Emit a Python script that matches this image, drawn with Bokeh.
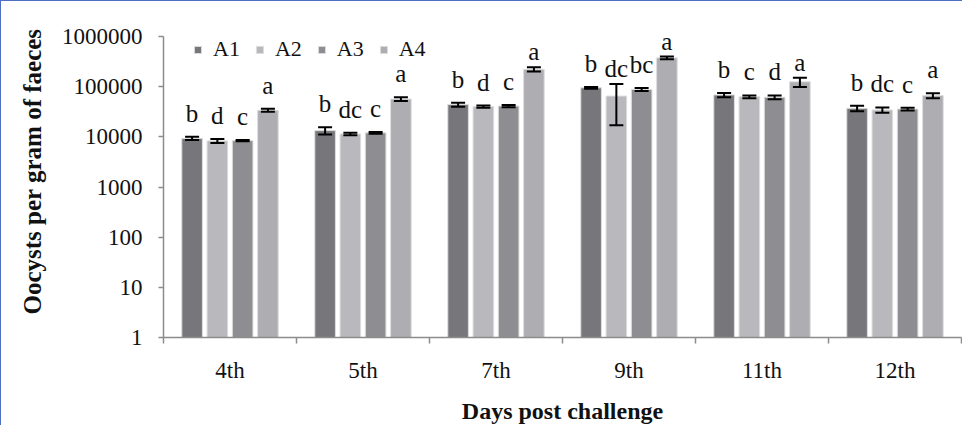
from bokeh.plotting import figure
from bokeh.models import (ColumnDataSource, Whisker, TeeHead, LabelSet, FixedTicker,
                          PrintfTickFormatter, Legend, LegendItem, Title, Range1d)
from bokeh.embed import file_html
from bokeh.resources import INLINE

days = ["4th", "5th", "7th", "9th", "11th", "12th"]
groups = ["A1", "A2", "A3", "A4"]

A1 = [9300, 13300, 44000, 95000, 68500, 37000]
A1_err = [700, 2200, 4000, 4000, 6700, 4500]
A1_sig = ["b", "b", "b", "b", "b", "b"]

A2 = [8300, 11400, 40000, 65000, 63000, 34300]
A2_err = [800, 600, 2000, 48000, 4000, 4200]
A2_sig = ["d", "dc", "d", "dc", "c", "dc"]

A3 = [8400, 12000, 41000, 88000, 61500, 35700]
A3_err = [250, 450, 2000, 6500, 5200, 2100]
A3_sig = ["c", "c", "c", "bc", "d", "c"]

A4 = [33800, 56500, 222000, 375000, 125000, 66500]
A4_err = [2300, 5000, 22000, 23000, 26000, 7600]
A4_sig = ["a", "a", "a", "a", "a", "a"]

y_ticks = [1, 10, 100, 1000, 10000, 100000, 1000000]

colors = ["#77777b", "#b9b9bd", "#8e8e92", "#aeaeb2"]
series = [(A1, A1_err, A1_sig), (A2, A2_err, A2_sig), (A3, A3_err, A3_sig), (A4, A4_err, A4_sig)]

AX = "#8c8c8c"
SERIF = "Liberation Serif"

p = figure(width=962, height=425, x_range=Range1d(0, len(days)), y_range=Range1d(1, 1e6),
           y_axis_type="log", output_backend="svg", toolbar_location=None,
           min_border_left=162, min_border_right=2, min_border_top=35, min_border_bottom=87)
p.xgrid.visible = False
p.ygrid.visible = False
p.outline_line_color = None
p.background_fill_color = "white"
p.border_fill_color = "white"
p.styles = {"border-left": "1px solid #4f6fc4", "border-top": "1px solid #4f6fc4"}

# y axis
yax = p.yaxis[0]
yax.ticker = FixedTicker(ticks=y_ticks, minor_ticks=[])
yax.formatter = PrintfTickFormatter(format="%d")
yax.axis_line_color = AX
yax.axis_line_width = 1.5
yax.major_tick_line_color = AX
yax.major_tick_line_width = 1.5
yax.major_tick_out = 5
yax.major_tick_in = 0
yax.minor_tick_out = 0
yax.minor_tick_in = 0
yax.major_label_standoff = 16
yax.major_label_text_font = SERIF
yax.major_label_text_font_size = "23px"
yax.major_label_text_color = "#111111"

# x axis
centers = [i + 0.5 for i in range(len(days))]
bounds = [float(i) for i in range(len(days) + 1)]
xax = p.xaxis[0]
xax.ticker = FixedTicker(ticks=centers, minor_ticks=bounds)
xax.major_label_overrides = {c: d for c, d in zip(centers, days)}
xax.axis_line_color = AX
xax.axis_line_width = 1.5
xax.major_tick_out = 0
xax.major_tick_in = 0
xax.minor_tick_out = 6
xax.minor_tick_in = 0
xax.minor_tick_line_color = AX
xax.minor_tick_line_width = 1.5
xax.major_label_standoff = 14
xax.major_label_text_font = SERIF
xax.major_label_text_font_size = "23px"
xax.major_label_text_color = "#111111"
xax.axis_label = "Days post challenge"
xax.axis_label_text_font = SERIF
xax.axis_label_text_font_style = "bold"
xax.axis_label_text_font_size = "24px"
xax.axis_label_text_color = "#111111"
xax.axis_label_standoff = 12

items = []
step = 0.19
for j, (name, (vals, errs, sig)) in enumerate(zip(groups, series)):
    xs = [i + 0.5 + (j - 1.5) * step for i in range(len(days))]
    upper = [v + e for v, e in zip(vals, errs)]
    src = ColumnDataSource(dict(
        x=xs, top=vals, upper=upper,
        lower=[v - e for v, e in zip(vals, errs)],
        sig=sig,
        # letters sit a little closer to tall bars so they stay inside the plot
        off=[15 if u < 100000 else 7 for u in upper]))
    r = p.vbar(x="x", top="top", bottom=1, width=0.155, source=src,
               fill_color=colors[j], line_color="#dedede", line_width=1)
    items.append(LegendItem(label=name, renderers=[r]))
    w = Whisker(source=src, base="x", upper="upper", lower="lower",
                line_color="black", line_width=2, level="overlay",
                upper_head=TeeHead(size=14, line_width=2, line_color="black"),
                lower_head=TeeHead(size=14, line_width=2, line_color="black"))
    p.add_layout(w)
    lab = LabelSet(source=src, x="x", y="upper", text="sig", y_offset="off",
                   text_align="center", text_baseline="alphabetic",
                   text_font=SERIF, text_font_size="25px", text_color="#111111")
    p.add_layout(lab)

legend = Legend(items=items, orientation="horizontal", location=(30, 275),
                background_fill_alpha=0, border_line_color=None,
                label_text_font=SERIF, label_text_font_size="22px",
                label_text_color="#111111",
                glyph_width=9, glyph_height=9, label_standoff=11, spacing=15,
                padding=0, margin=0)
p.add_layout(legend)

p.add_layout(Title(text="Oocysts per gram of faeces", align="left", offset=23,
                   text_font=SERIF, text_font_style="bold", text_font_size="25px",
                   text_color="#111111", standoff=26), "left")

open("out.html", "w").write(file_html(p, INLINE))
